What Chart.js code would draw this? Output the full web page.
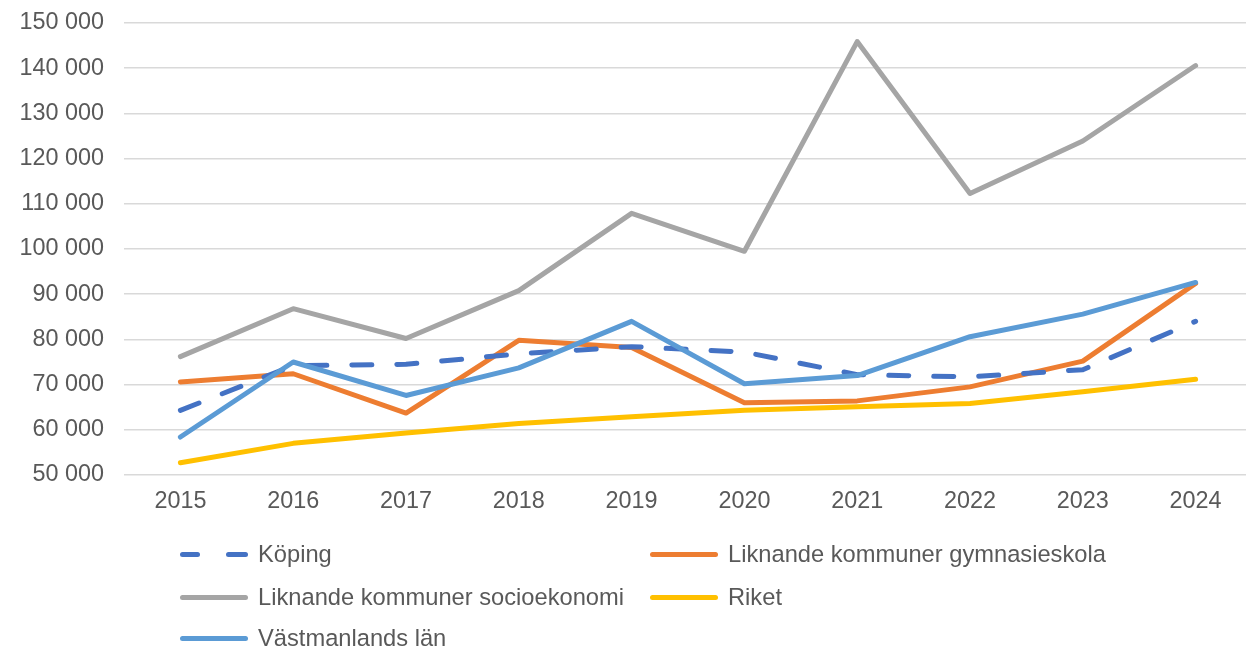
<!DOCTYPE html>
<html>
<head>
<meta charset="utf-8">
<script src="https://cdn.jsdelivr.net/npm/chart.js@4"></script>
<style>
  html, body { margin: 0; padding: 0; background: #fff; overflow: hidden; width: 1246px; height: 650px; }
  #wrap { position: absolute; left: 0; top: -11px; width: 1252px; height: 541px; }
  #legend { position: absolute; left: 0; top: 0; width: 1246px; height: 650px; pointer-events: none;
    font-family: "Liberation Sans", Arial, sans-serif; font-size: 23.7px; color: #595959; }
  .item { position: absolute; height: 30px; display: flex; align-items: center; white-space: nowrap; }
  .mk { width: 68px; height: 5px; border-radius: 3px; margin-right: 10px; position: relative; }
  .dash { width: 68px; height: 5px; margin-right: 10px; position: relative; }
  .dash span { position: absolute; top: 0; height: 5px; border-radius: 3px; background: #4472C4; }
</style>
</head>
<body>
<div id="wrap"><canvas id="c"></canvas></div>
<div id="legend"></div>
<script>
const categories = ['2015','2016','2017','2018','2019','2020','2021','2022','2023','2024'];
const koping      = [64300, 74200, 74500, 76800, 78400, 77200, 72200, 71700, 73300, 84000];
const gymnasie    = [70600, 72400, 63700, 79800, 78200, 66000, 66400, 69500, 75200, 92400];
const socioek     = [76200, 86800, 80200, 90800, 107900, 99500, 145900, 112300, 123900, 140600];
const riket       = [52700, 57000, 59300, 61400, 62900, 64300, 65100, 65800, 68400, 71200];
const vastmanland = [58400, 75000, 67600, 73700, 84000, 70200, 72000, 80600, 85600, 92600];
const seriesNames = ['Köping', 'Liknande kommuner gymnasieskola', 'Liknande kommuner socioekonomi', 'Riket', 'Västmanlands län'];
const yTicks = [50000, 60000, 70000, 80000, 90000, 100000, 110000, 120000, 130000, 140000, 150000];

const colors = ['#4472C4', '#ED7D31', '#A5A5A5', '#FFC000', '#5B9BD5'];
const values = [koping, gymnasie, socioek, riket, vastmanland];
const order = [2, 3, 1, 0, 4]; // drawing order (last drawn on top)

const fmt = v => String(v).replace(/\B(?=(\d{3})+(?!\d))/g, ' ');

const datasets = values.map((d, i) => ({
  label: seriesNames[i],
  data: d,
  borderColor: colors[i],
  backgroundColor: colors[i],
  borderWidth: 5,
  pointRadius: 0,
  pointHoverRadius: 0,
  tension: 0,
  fill: false,
  borderJoinStyle: 'round',
  borderCapStyle: 'round',
  borderDash: i === 0 ? [20, 25] : [],
  order: -order.indexOf(i)
}));

new Chart(document.getElementById('c'), {
  type: 'line',
  data: { labels: categories, datasets },
  options: {
    responsive: true,
    maintainAspectRatio: false,
    animation: false,
    events: [],
    layout: { padding: { top: 9, right: 0, left: 0, bottom: 0 } },
    plugins: { legend: { display: false }, tooltip: { enabled: false } },
    scales: {
      x: {
        offset: true,
        grid: { display: false },
        border: { display: false },
        ticks: { color: '#595959', font: { family: 'Liberation Sans', size: 23.4 }, padding: 5, maxRotation: 0 },
        afterFit: s => { s.height = 55; }
      },
      y: {
        min: 50000, max: 150000,
        afterBuildTicks: s => { s.ticks = yTicks.map(v => ({ value: v })); },
        grid: { color: '#d9d9d9', lineWidth: 1.5, drawTicks: false },
        border: { display: false },
        ticks: { color: '#595959', font: { family: 'Liberation Sans', size: 23.4 }, padding: 20, callback: v => fmt(v) },
        afterFit: s => { s.width = 124; }
      }
    }
  }
});

// HTML legend
const legend = document.getElementById('legend');
const pos = [
  { x: 180, y: 554 }, { x: 650, y: 554 },
  { x: 180, y: 597 }, { x: 650, y: 597 },
  { x: 180, y: 638 }
];
seriesNames.forEach((name, i) => {
  const it = document.createElement('div');
  it.className = 'item';
  it.style.left = pos[i].x + 'px';
  it.style.top = (pos[i].y - 15) + 'px';
  let mk;
  if (i === 0) {
    mk = document.createElement('div');
    mk.className = 'dash';
    const a = document.createElement('span'); a.style.left = '0px'; a.style.width = '20px';
    const b = document.createElement('span'); b.style.left = '46px'; b.style.width = '22px';
    mk.appendChild(a); mk.appendChild(b);
  } else {
    mk = document.createElement('div');
    mk.className = 'mk';
    mk.style.background = colors[i];
  }
  const t = document.createElement('span');
  t.textContent = name;
  it.appendChild(mk); it.appendChild(t);
  legend.appendChild(it);
});
</script>
</body>
</html>
